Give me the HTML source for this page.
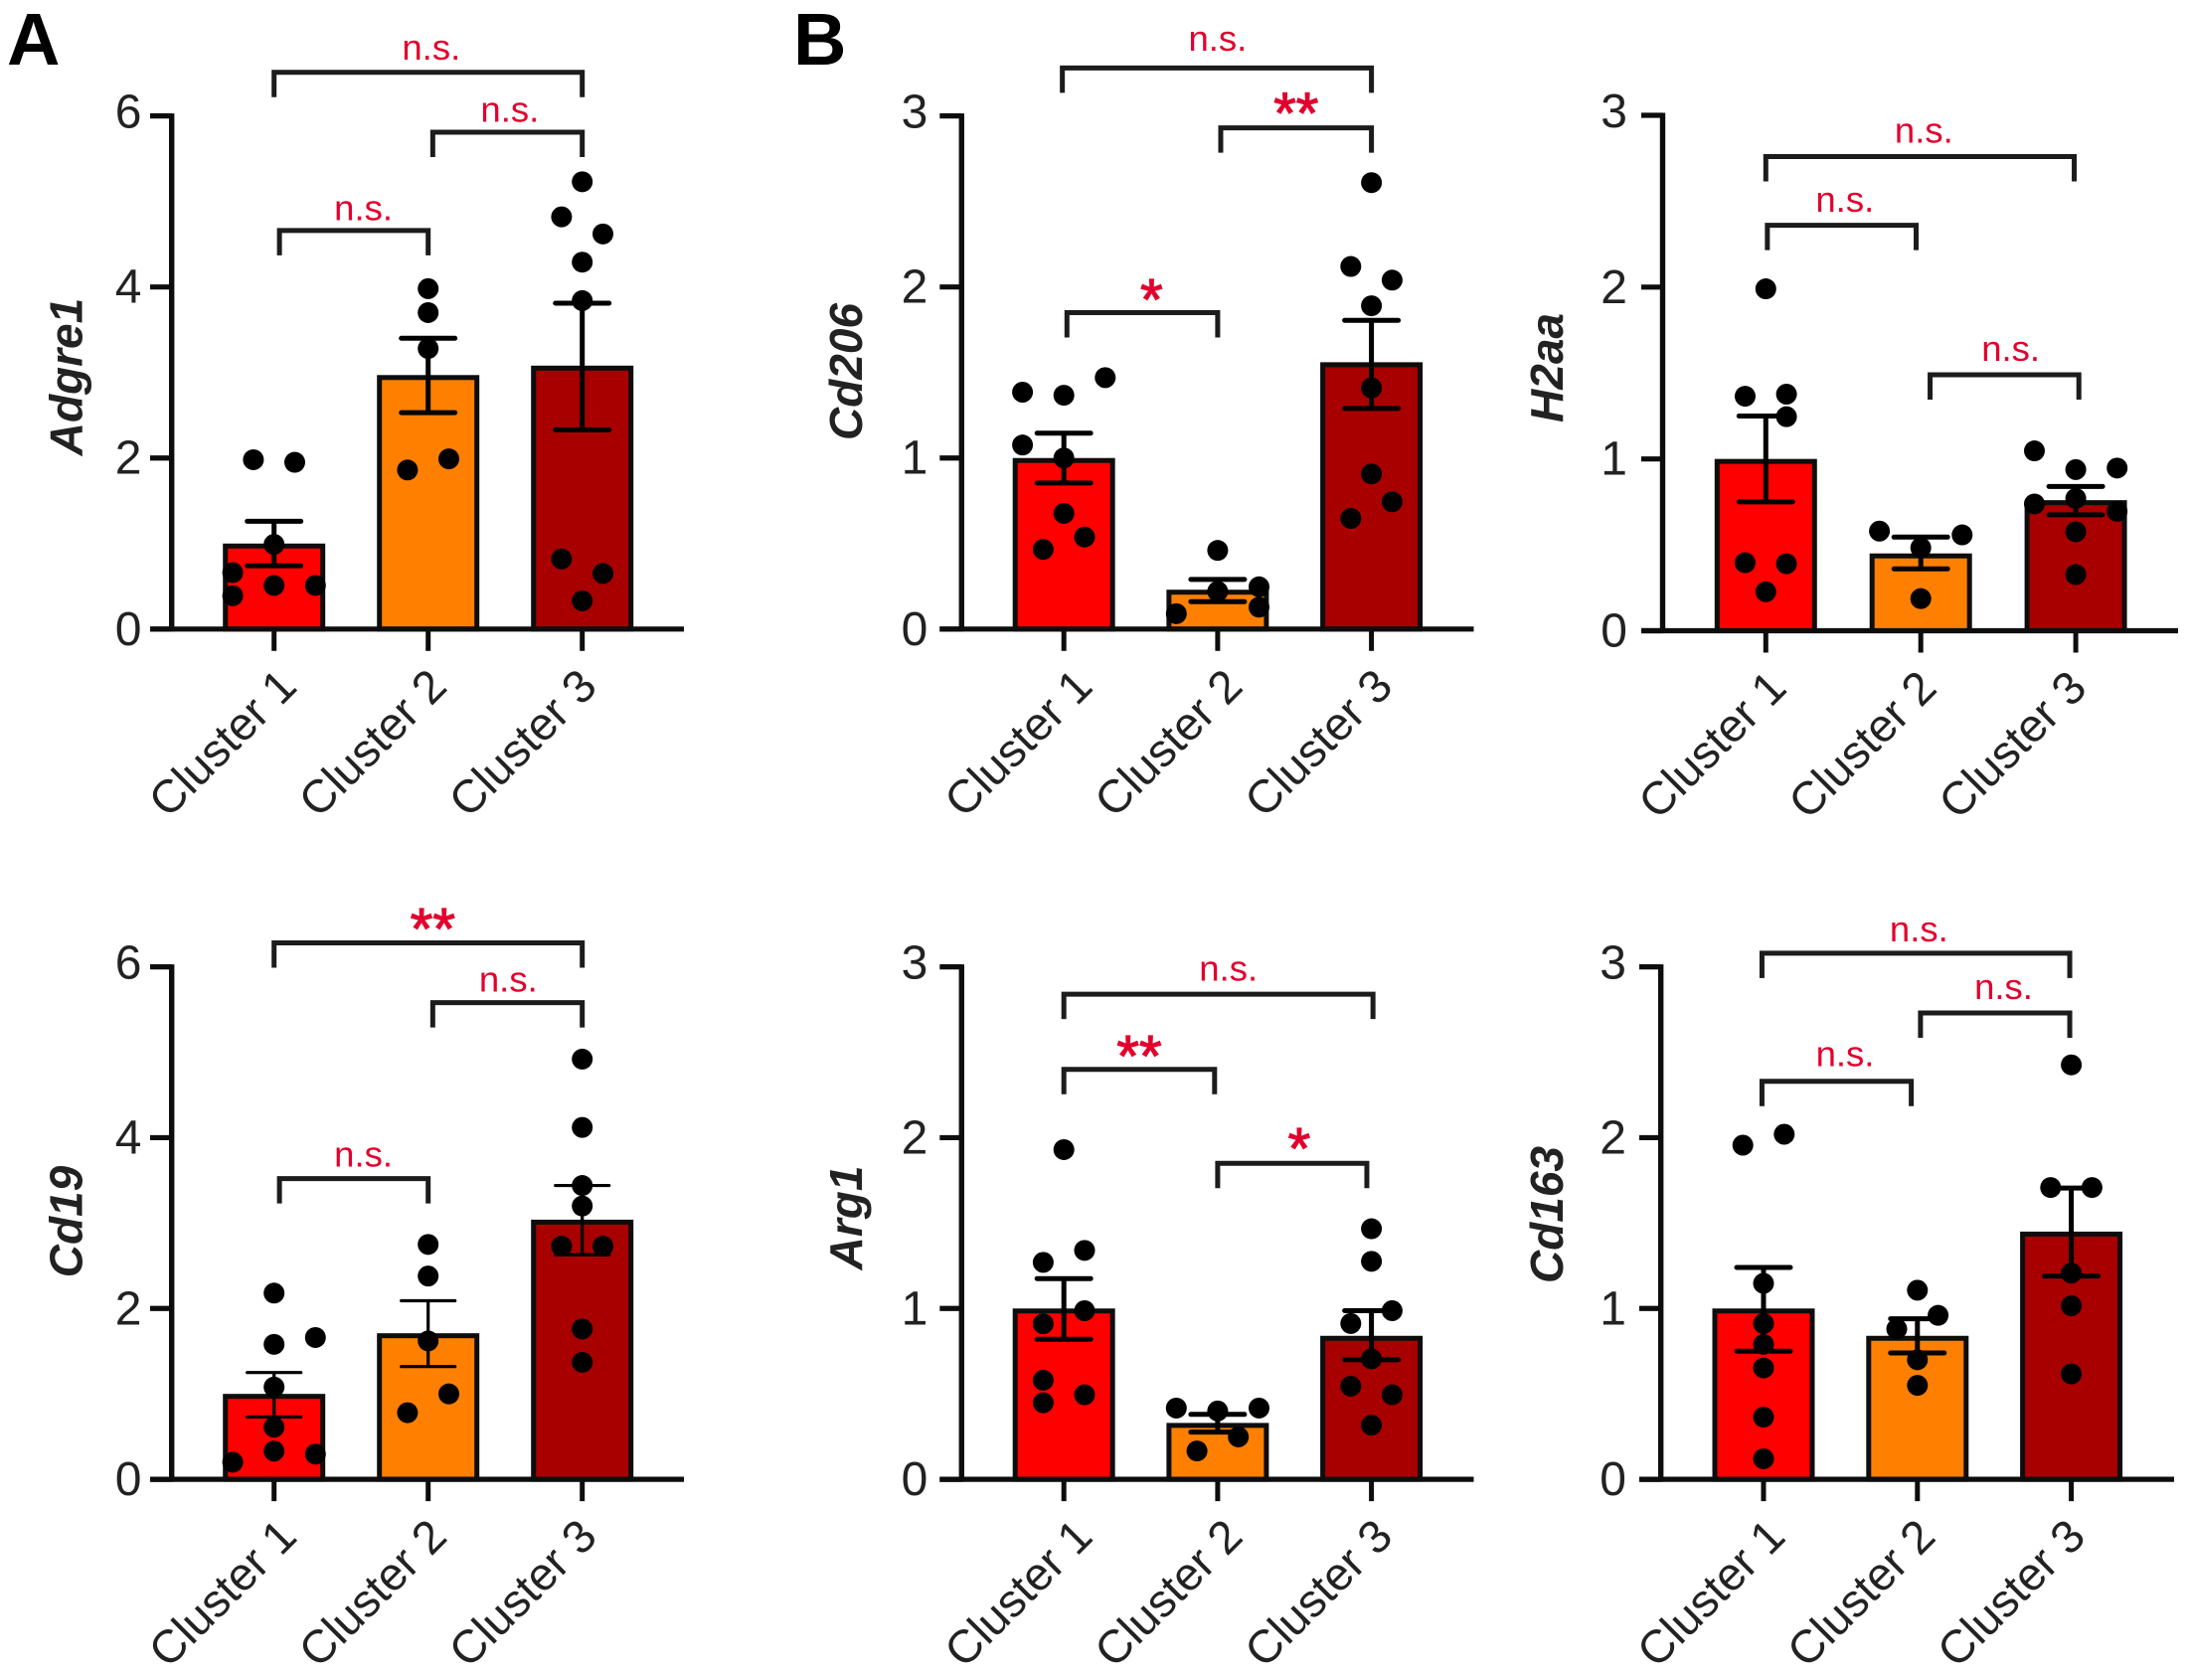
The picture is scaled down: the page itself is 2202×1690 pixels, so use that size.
<!DOCTYPE html>
<html lang="en">
<head>
<meta charset="utf-8">
<title>Gene expression by cluster</title>
<style>
html,body{margin:0;padding:0;background:#fff;}
svg{display:block;font-family:"Liberation Sans",Arial,sans-serif;}
</style>
</head>
<body>
<svg id="figure" xmlns="http://www.w3.org/2000/svg" width="2202" height="1690" viewBox="0 0 2202 1690">
  <rect x="0" y="0" width="2202" height="1690" fill="#ffffff"/>
  <text x="7" y="65" font-size="74" font-weight="bold" fill="#000">A</text>
  <text x="798" y="65" font-size="74" font-weight="bold" fill="#000">B</text>
</svg>
<script>
const categories = ['Cluster 1', 'Cluster 2', 'Cluster 3'];
const barColors = ['#ff0000', '#ff8000', '#a80000'];

const ticksSix = [0, 2, 4, 6];
const ticksThree = [0, 1, 2, 3];

/* Bracket rows: from category, to category, bracket level, label, label category, label baseline level */

/* Adgre1 */
const adgre1Means = [1.0, 2.97, 3.08];
const adgre1Upper = [1.26, 3.40, 3.81];
const adgre1Lower = [0.74, 2.53, 2.33];
const adgre1Points = [
  [1.98, 1.95, 0.99, 0.66, 0.51, 0.51, 0.39],
  [3.98, 3.70, 3.28, 1.86, 1.99],
  [5.23, 4.82, 4.62, 4.29, 3.84, 0.82, 0.65, 0.33]
];
const adgre1Swarm = [
  [-1, 1, 0, -2, 0, 2, -2],
  [0, 0, 0, -1, 1],
  [0, -1, 1, 0, 0, -1, 1, 0]
];
const adgre1Brackets = [
  [1.0, 3.0, 6.51, 'n.s.', 2.02, 6.66],
  [2.03, 3.0, 5.81, 'n.s.', 2.53, 5.93],
  [1.035, 2.0, 4.66, 'n.s.', 1.58, 4.78]
];

/* Cd206 */
const cd206Means = [1.0, 0.23, 1.56];
const cd206Upper = [1.145, 0.29, 1.805];
const cd206Lower = [0.854, 0.16, 1.29];
const cd206Points = [
  [1.47, 1.385, 1.367, 1.076, 1.0, 0.676, 0.538, 0.466],
  [0.46, 0.247, 0.22, 0.128, 0.09],
  [2.61, 2.12, 2.04, 1.89, 1.41, 0.907, 0.744, 0.647]
];
const cd206Swarm = [
  [2, -2, 0, -2, 0, 0, 1, -1],
  [0, 2, 0, 2, -2],
  [0, -1, 1, 0, 0, 0, 1, -1]
];
const cd206Brackets = [
  [0.99, 3.0, 3.28, 'n.s.', 2.0, 3.38],
  [2.02, 3.0, 2.93, '**', 2.51, 2.90],
  [1.02, 2.0, 1.85, '*', 1.57, 1.81]
];

/* H2aa */
const h2aaMeans = [1.0, 0.45, 0.76];
const h2aaUpper = [1.25, 0.545, 0.84];
const h2aaLower = [0.75, 0.36, 0.675];
const h2aaPoints = [
  [1.99, 1.365, 1.377, 1.246, 0.396, 0.39, 0.227],
  [0.58, 0.558, 0.483, 0.187],
  [1.047, 0.938, 0.947, 0.77, 0.738, 0.695, 0.576, 0.327]
];
const h2aaSwarm = [
  [0, -1, 1, 1, -1, 1, 0],
  [-2, 2, 0, 0],
  [-2, 0, 2, 0, -2, 2, 0, 0]
];
const h2aaBrackets = [
  [1.0, 2.99, 2.76, 'n.s.', 2.02, 2.84],
  [1.01, 1.97, 2.36, 'n.s.', 1.51, 2.44],
  [2.06, 3.02, 1.49, 'n.s.', 2.58, 1.57]
];

/* Cd19 */
const cd19Means = [1.0, 1.71, 3.04];
const cd19Upper = [1.25, 2.09, 3.44];
const cd19Lower = [0.73, 1.32, 2.63];
const cd19Points = [
  [2.18, 1.66, 1.58, 1.08, 0.61, 0.33, 0.295, 0.2],
  [2.75, 2.38, 1.62, 1.0, 0.78],
  [4.92, 4.12, 3.44, 3.2, 2.73, 2.73, 1.76, 1.37]
];
const cd19Swarm = [
  [0, 2, 0, 0, 0, 0, 2, -2],
  [0, 0, 0, 1, -1],
  [0, 0, 0, 0, -1, 1, 0, 0]
];
const cd19Brackets = [
  [1.0, 3.0, 6.28, '**', 2.03, 6.21],
  [2.03, 3.0, 5.58, 'n.s.', 2.52, 5.71],
  [1.035, 2.0, 3.52, 'n.s.', 1.58, 3.66]
];

/* Arg1 */
const arg1Means = [1.0, 0.33, 0.84];
const arg1Upper = [1.175, 0.38, 0.987];
const arg1Lower = [0.82, 0.276, 0.70];
const arg1Points = [
  [1.93, 1.34, 1.27, 0.987, 0.91, 0.58, 0.495, 0.448],
  [0.417, 0.417, 0.40, 0.248, 0.166],
  [1.467, 1.276, 0.987, 0.912, 0.705, 0.545, 0.495, 0.317]
];
const arg1Swarm = [
  [0, 1, -1, 1, -1, -1, 1, -1],
  [-2, 2, 0, 1, -1],
  [0, 0, 1, -1, 0, -1, 1, 0]
];
const arg1Brackets = [
  [1.0, 3.01, 2.84, 'n.s.', 2.07, 2.92],
  [1.0, 1.98, 2.40, '**', 1.49, 2.36],
  [2.0, 2.97, 1.85, '*', 2.53, 1.82]
];

/* Cd163 */
const cd163Means = [1.0, 0.84, 1.45];
const cd163Upper = [1.24, 0.94, 1.705];
const cd163Lower = [0.75, 0.74, 1.19];
const cd163Points = [
  [2.02, 1.956, 1.147, 0.912, 0.79, 0.652, 0.364, 0.12],
  [1.107, 0.96, 0.88, 0.70, 0.55],
  [2.426, 1.708, 1.708, 1.207, 1.016, 0.617]
];
const cd163Swarm = [
  [1, -1, 0, 0, 0, 0, 0, 0],
  [0, 1, -1, 0, 0],
  [0, -1, 1, 0, 0, 0]
];
const cd163Brackets = [
  [0.99, 2.99, 3.08, 'n.s.', 2.01, 3.15],
  [2.02, 2.99, 2.73, 'n.s.', 2.56, 2.81],
  [0.99, 1.96, 2.33, 'n.s.', 1.53, 2.42]
];

const SVG_NS = 'http://www.w3.org/2000/svg';
const root = document.getElementById('figure');
const INK = '#0d0d0d';
const RED_LABEL = '#e2002c';
const LABEL_STEP = 151;

function make(parent, tag, attrs, text) {
  const node = document.createElementNS(SVG_NS, tag);
  for (const k in attrs) node.setAttribute(k, attrs[k]);
  if (text !== undefined) node.textContent = text;
  parent.appendChild(node);
  return node;
}

function drawPanel(p) {
  const g = make(root, 'g', {});
  
  

  const yScale = v => p.base - (v / p.max) * (p.base - p.top);
  const xScale = c => p.c1 + (c - 1) * p.spacing;

  /* bars */
  categories.forEach((cat, i) => {
    const barTop = yScale(p.means[i]) + 2.5;
    const bar = make(g, 'rect', {
      x: xScale(i + 1) - 49, y: barTop, width: 98,
      height: p.base - barTop,
      fill: barColors[i], stroke: INK, 'stroke-width': 5
    });
    
    
  });

  /* y axis */
  const yLine = make(g, 'line', {
    x1: p.axisX, x2: p.axisX, y1: p.top - 2.5, y2: p.base + 2.5,
    stroke: INK, 'stroke-width': 5.4
  });
  
  

  p.ticks.forEach(t => {
    const tick = make(g, 'line', {
      x1: p.tickLeft, x2: p.axisX, y1: yScale(t), y2: yScale(t),
      stroke: INK, 'stroke-width': 5.2
    });
    
    
    const label = make(g, 'text', {
      x: p.tickLeft - p.labelGap, y: yScale(t) + (t === p.max ? 12 : 16),
      'text-anchor': 'end', 'font-size': 48, fill: '#222'
    }, String(t));
    
    
  });

  /* x axis */
  const xLine = make(g, 'line', {
    x1: p.tickLeft, x2: p.axisEnd, y1: p.base, y2: p.base,
    stroke: INK, 'stroke-width': 5.2
  });
  
  

  categories.forEach((cat, i) => {
    const cx = xScale(i + 1);
    const tick = make(g, 'line', {
      x1: cx, x2: cx, y1: p.base, y2: p.base + 22,
      stroke: INK, 'stroke-width': 5
    });
    
    
    const lx = p.c1 + p.labelDx + i * LABEL_STEP;
    const ly = p.base + 60;
    const label = make(g, 'text', {
      x: lx, y: ly, 'text-anchor': 'end', 'font-size': 46.5, fill: '#222',
      transform: 'rotate(-45 ' + lx + ' ' + ly + ')'
    }, cat);
    
    
  });

  /* points */
  p.points.forEach((group, i) => {
    group.forEach((v, j) => {
      const dot = make(g, 'circle', {
        cx: xScale(i + 1) + p.swarm[i][j] * 20.8, cy: yScale(v), r: 10.5, fill: '#000'
      });
      
      
    });
  });

  /* error bars */
  categories.forEach((cat, i) => {
    const cx = xScale(i + 1);
    const up = yScale(p.upper[i]);
    const lo = yScale(p.lower[i]);
    const path = make(g, 'path', {
      d: 'M' + (cx - 27) + ' ' + up + 'H' + (cx + 27) + 'M' + cx + ' ' + up + 'V' + lo +
         'M' + (cx - 27) + ' ' + lo + 'H' + (cx + 27),
      fill: 'none', stroke: '#000', 'stroke-width': p.errWidth, 'stroke-linecap': 'round'
    });
    
    
  });

  /* significance brackets */
  p.brackets.forEach(b => {
    const x1 = xScale(b[0]);
    const x2 = xScale(b[1]);
    const y = yScale(b[2]);
    const bracket = make(g, 'path', {
      d: 'M' + x1 + ' ' + (y + 25) + 'V' + y + 'H' + x2 + 'V' + (y + 25),
      fill: 'none', stroke: '#1c1c1c', 'stroke-width': 5
    });
    
    
    const isStar = b[3] !== 'n.s.';
    const label = make(g, 'text', {
      x: xScale(b[4]), y: yScale(b[5]), 'text-anchor': 'middle',
      'font-size': isStar ? 58 : 36.5, fill: RED_LABEL,
      stroke: isStar ? RED_LABEL : 'none', 'stroke-width': isStar ? 1.2 : 0
    }, b[3]);
    
    
  });

  /* y axis title */
  const title = make(g, 'text', {
    x: p.titleX, y: p.titleY, 'text-anchor': 'middle', 'font-size': 46,
    'font-weight': 'bold', 'font-style': 'italic', fill: '#222',
    transform: 'rotate(-90 ' + p.titleX + ' ' + p.titleY + ')'
  }, p.title);
  
  
}

const TOP_ROW = { top: 116.6, base: 632.8 };
const BOTTOM_ROW = { top: 972.6, base: 1488.1 };

drawPanel({ key: 'adgre1', title: 'Adgre1', max: 6, ticks: ticksSix, means: adgre1Means, upper: adgre1Upper, lower: adgre1Lower, points: adgre1Points, swarm: adgre1Swarm, brackets: adgre1Brackets,
  axisX: 172.7, c1: 275.7, spacing: 155, axisEnd: 688, tickLeft: 151, top: TOP_ROW.top, base: TOP_ROW.base, titleX: 82.6, titleY: 379, errWidth: 5, labelGap: 8.5, labelDx: 25 });
drawPanel({ key: 'cd206', title: 'Cd206', max: 3, ticks: ticksThree, means: cd206Means, upper: cd206Upper, lower: cd206Lower, points: cd206Points, swarm: cd206Swarm, brackets: cd206Brackets,
  axisX: 967.3, c1: 1070.2, spacing: 154.7, axisEnd: 1482.5, tickLeft: 945.3, top: TOP_ROW.top, base: TOP_ROW.base, titleX: 867, titleY: 374, errWidth: 5, labelGap: 12, labelDx: 31 });
drawPanel({ key: 'h2aa', title: 'H2aa', max: 3, ticks: ticksThree, means: h2aaMeans, upper: h2aaUpper, lower: h2aaLower, points: h2aaPoints, swarm: h2aaSwarm, brackets: h2aaBrackets,
  axisX: 1672.5, c1: 1776.3, spacing: 155.9, axisEnd: 2191, tickLeft: 1651, top: 116, base: 634.5, titleX: 1572, titleY: 370, errWidth: 5, labelGap: 14, labelDx: 23 });
drawPanel({ key: 'cd19', title: 'Cd19', max: 6, ticks: ticksSix, means: cd19Means, upper: cd19Upper, lower: cd19Lower, points: cd19Points, swarm: cd19Swarm, brackets: cd19Brackets,
  axisX: 172.7, c1: 275.7, spacing: 155, axisEnd: 688, tickLeft: 151, top: BOTTOM_ROW.top, base: BOTTOM_ROW.base, titleX: 82.6, titleY: 1229, errWidth: 3.2, labelGap: 8.5, labelDx: 25 });
drawPanel({ key: 'arg1', title: 'Arg1', max: 3, ticks: ticksThree, means: arg1Means, upper: arg1Upper, lower: arg1Lower, points: arg1Points, swarm: arg1Swarm, brackets: arg1Brackets,
  axisX: 967.3, c1: 1070.2, spacing: 154.7, axisEnd: 1482.5, tickLeft: 945.3, top: BOTTOM_ROW.top, base: BOTTOM_ROW.base, titleX: 867, titleY: 1225, errWidth: 5, labelGap: 12, labelDx: 31 });
drawPanel({ key: 'cd163', title: 'Cd163', max: 3, ticks: ticksThree, means: cd163Means, upper: cd163Upper, lower: cd163Lower, points: cd163Points, swarm: cd163Swarm, brackets: cd163Brackets,
  axisX: 1670.7, c1: 1774, spacing: 154.8, axisEnd: 2187, tickLeft: 1649, top: BOTTOM_ROW.top, base: BOTTOM_ROW.base, titleX: 1572, titleY: 1222, errWidth: 5, labelGap: 13, labelDx: 24 });
</script>
</body>
</html>
